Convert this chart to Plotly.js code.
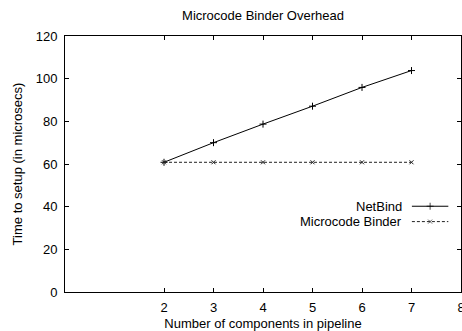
<!DOCTYPE html>
<html>
<head>
<meta charset="utf-8">
<script src="https://cdn.plot.ly/plotly-3.0.1.min.js"></script>
<style>html,body{margin:0;padding:0;background:#fff;}#chart{width:462px;height:331px;}</style>
</head>
<body>
<div id="chart"></div>
<script>
const components = [2, 3, 4, 5, 6, 7];
const netBind = [60.8, 70.0, 78.7, 87.1, 95.9, 103.8];
const microcodeBinder = [60.8, 60.8, 60.8, 60.8, 60.8, 60.8];
const xTicks = [2, 3, 4, 5, 6, 7, 8];
const yTicks = [0, 20, 40, 60, 80, 100, 120];
const seriesNames = ['NetBind', 'Microcode Binder'];

const FONT = 'Liberation Sans, Arial, Helvetica, sans-serif';
const INK = '#000';
const FS = 13;

// legend key samples drawn on an overlaid unit axis
const keyX = [0.876, 0.922, 0.968];
const keyY = [0.335, 0.275];

const traces = [
  {x: components, y: netBind, name: seriesNames[0], mode: 'lines+markers',
   line: {color: INK, width: 1}, marker: {symbol: 'cross-thin-open', size: 5, line: {color: INK, width: 1}},
   showlegend: false},
  {x: components, y: microcodeBinder, name: seriesNames[1], mode: 'lines+markers',
   line: {color: '#222', width: 1, dash: '3px,2px'}, marker: {symbol: 'x-thin-open', size: 4, line: {color: INK, width: 1}},
   showlegend: false},
  {x: keyX, y: [keyY[0], keyY[0], keyY[0]], xaxis: 'x2', yaxis: 'y2', mode: 'lines+markers',
   line: {color: INK, width: 1}, marker: {symbol: 'cross-thin-open', size: [0, 5, 0], line: {color: INK, width: 1}},
   showlegend: false, hoverinfo: 'skip'},
  {x: keyX, y: [keyY[1], keyY[1], keyY[1]], xaxis: 'x2', yaxis: 'y2', mode: 'lines+markers',
   line: {color: '#222', width: 1, dash: '3px,2px'}, marker: {symbol: 'x-thin-open', size: [0, 4, 0], line: {color: INK, width: 1}},
   showlegend: false, hoverinfo: 'skip'}
];

const axisCommon = {
  showgrid: false, zeroline: false, showline: true, linecolor: INK, linewidth: 1,
  mirror: 'ticks', ticks: 'inside', ticklen: 4, tickwidth: 1, tickcolor: INK,
  tickfont: {family: FONT, size: FS, color: INK}
};

const layout = {
  width: 462, height: 331,
  margin: {l: 65, r: 1, t: 36, b: 39},
  paper_bgcolor: '#fff', plot_bgcolor: '#fff',
  font: {family: FONT, size: FS, color: INK},
  title: {text: 'Microcode Binder Overhead', font: {family: FONT, size: FS, color: INK},
          x: 0.5, xref: 'paper', y: 1 - 15 / 331, yref: 'container', yanchor: 'middle'},
  xaxis: Object.assign({}, axisCommon, {range: [0, 8], tickvals: xTicks, ticktext: xTicks.map(String),
    ticklabeloverflow: 'allow', ticklabelstandoff: 3,
    title: {text: 'Number of components in pipeline', font: {family: FONT, size: FS, color: INK}, standoff: 5},
    automargin: false}),
  yaxis: Object.assign({}, axisCommon, {range: [0, 120], tickvals: yTicks, ticktext: yTicks.map(String),
    ticklabelstandoff: 4,
    title: {text: 'Time to setup (in microsecs)', font: {family: FONT, size: FS, color: INK}, standoff: 10},
    automargin: false}),
  xaxis2: {overlaying: 'x', range: [0, 1], visible: false, fixedrange: true},
  yaxis2: {overlaying: 'y', range: [0, 1], visible: false, fixedrange: true},
  annotations: [
    {xref: 'paper', yref: 'paper', x: 0.857, y: keyY[0], xanchor: 'right', yanchor: 'middle',
     text: seriesNames[0], showarrow: false, font: {family: FONT, size: FS, color: INK}},
    {xref: 'paper', yref: 'paper', x: 0.857, y: keyY[1], xanchor: 'right', yanchor: 'middle',
     text: seriesNames[1], showarrow: false, font: {family: FONT, size: FS, color: INK}}
  ],
  showlegend: false
};

Plotly.newPlot('chart', traces, layout, {displayModeBar: false, staticPlot: true});
</script>
</body>
</html>
